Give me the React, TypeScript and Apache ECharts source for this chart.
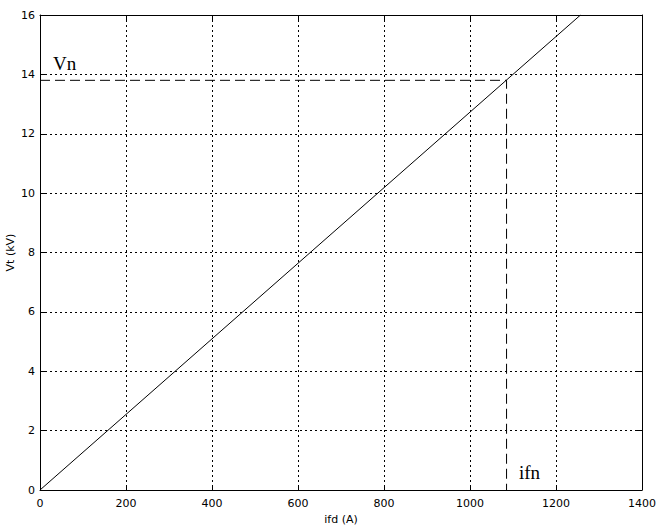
import React, { useEffect, useRef } from "react";
import * as echarts from "echarts";

const ifd: number[] = [0, 1257];
const vt: number[] = [0, 16];
const Vn = 13.8;
const ifn = 1085;
const xTicks = { min: 0, max: 1400, interval: 200 };
const yTicks = { min: 0, max: 16, interval: 2 };

export default function App() {
  const ref = useRef<HTMLDivElement>(null);
  useEffect(() => {
    const chart = echarts.init(ref.current!, null, { renderer: "svg" });
    const font = "DejaVu Sans";
    const axisCommon = {
      axisLine: { show: true, onZero: false, lineStyle: { color: "#000", width: 1 } },
      axisTick: { show: true, inside: true, length: 5, lineStyle: { color: "#000" } },
    };
    const plain = (v: number) => String(v);
    chart.setOption({
      animation: false,
      backgroundColor: "#fff",
      grid: { left: 40, right: 19, top: 15, bottom: 42, containLabel: false, outerBoundsMode: "none" },
      xAxis: [
        {
          type: "value",
          ...xTicks,
          ...axisCommon,
          name: "ifd (A)",
          nameLocation: "middle",
          nameGap: 24,
          nameMoveOverlap: false,
          nameTextStyle: { fontFamily: font, fontSize: 11, color: "#000" },
          axisLabel: { fontFamily: font, fontSize: 11, color: "#000", margin: 8, formatter: plain },
          splitLine: { show: true, lineStyle: { color: "#000", type: [2, 3], width: 1 } },
        },
        {
          type: "value",
          position: "top",
          ...xTicks,
          ...axisCommon,
          axisLabel: { show: false },
          splitLine: { show: false },
        },
      ],
      yAxis: [
        {
          type: "value",
          ...yTicks,
          ...axisCommon,
          name: "Vt (kV)",
          nameLocation: "middle",
          nameGap: 24,
          nameMoveOverlap: false,
          nameTextStyle: { fontFamily: font, fontSize: 11, color: "#000" },
          axisLabel: { fontFamily: font, fontSize: 11, color: "#000", margin: 5, formatter: plain },
          splitLine: { show: true, lineStyle: { color: "#000", type: [2, 3], width: 1 } },
        },
        {
          type: "value",
          position: "right",
          ...yTicks,
          ...axisCommon,
          axisLabel: { show: false },
          splitLine: { show: false },
        },
      ],
      series: [
        {
          type: "line",
          data: ifd.map((x, i) => [x, vt[i]]),
          symbol: "none",
          lineStyle: { color: "#000", width: 1 },
        },
        {
          type: "line",
          data: [
            [0, Vn],
            [ifn, Vn],
            [ifn, 0],
          ],
          symbol: "none",
          lineStyle: { color: "#000", width: 1, type: [10, 5] },
        },
      ],
      graphic: [
        {
          type: "text",
          left: 53,
          top: 54,
          style: { text: "Vn", font: "19px 'Liberation Serif'", fill: "#000" },
        },
        {
          type: "text",
          left: 519,
          top: 463,
          style: { text: "ifn", font: "19px 'Liberation Serif'", fill: "#000" },
        },
      ],
    });
    return () => chart.dispose();
  }, []);
  return <div ref={ref} style={{ width: 661, height: 532, position: "absolute", left: 0, top: 0 }} />;
}
